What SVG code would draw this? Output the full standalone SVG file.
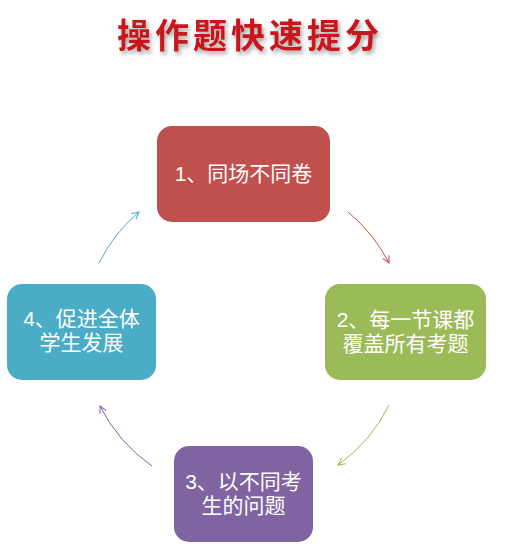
<svg xmlns="http://www.w3.org/2000/svg" width="528" height="560" viewBox="0 0 528 560">
<style>
.node text{font-family:"Liberation Sans","Noto Sans CJK SC",sans-serif;font-size:21px;fill:#FFFFFF;text-anchor:middle}
.conn path{fill:none;stroke-width:1}
.title{font-family:"Noto Sans CJK SC",sans-serif;font-weight:bold;font-size:34px;fill:#C8161D;letter-spacing:4px}
</style>
<defs>
<filter id="sh" x="-10%" y="-30%" width="120%" height="160%">
<feDropShadow dx="2" dy="3" stdDeviation="2" flood-color="#666" flood-opacity="0.6"/>
</filter>
<marker id="mr" markerWidth="10" markerHeight="10" refX="8" refY="4" orient="auto" markerUnits="userSpaceOnUse"><path d="M1,0.5 L8,4 L1,7.5" fill="none" stroke="#C0504D" stroke-width="1"/></marker>
<marker id="mg" markerWidth="10" markerHeight="10" refX="8" refY="4" orient="auto" markerUnits="userSpaceOnUse"><path d="M1,0.5 L8,4 L1,7.5" fill="none" stroke="#9BBB59" stroke-width="1"/></marker>
<marker id="mp" markerWidth="10" markerHeight="10" refX="8" refY="4" orient="auto" markerUnits="userSpaceOnUse"><path d="M1,0.5 L8,4 L1,7.5" fill="none" stroke="#8064A2" stroke-width="1"/></marker>
<marker id="mb" markerWidth="10" markerHeight="10" refX="8" refY="4" orient="auto" markerUnits="userSpaceOnUse"><path d="M1,0.5 L8,4 L1,7.5" fill="none" stroke="#4BACC6" stroke-width="1"/></marker>
</defs>
<text class="title" x="117" y="48" filter="url(#sh)">操作题快速提分</text>
<g class="conn">
<path d="M348,212 A161,161 0 0 1 389,263" stroke="#C0504D" marker-end="url(#mr)"/>
<path d="M389,405 A162,162 0 0 1 338,465" stroke="#9BBB59" marker-end="url(#mg)"/>
<path d="M152,466 A161,161 0 0 1 100,406" stroke="#8064A2" marker-end="url(#mp)"/>
<path d="M99,263 A160,160 0 0 1 139,212" stroke="#4BACC6" marker-end="url(#mb)"/>
</g>
<g id="node1" class="node">
<rect x="157" y="126" width="173" height="96" rx="15" fill="#C0504D"/>
<text x="243.5" y="181">1、同场不同卷</text>
</g>
<g id="node2" class="node">
<rect x="325" y="284" width="161" height="96" rx="15" fill="#9BBB59"/>
<text x="405.5" y="327">2、每一节课都</text>
<text x="405.5" y="351">覆盖所有考题</text>
</g>
<g id="node3" class="node">
<rect x="174" y="446" width="139" height="96" rx="15" fill="#8064A2"/>
<text x="243.5" y="489">3、以不同考</text>
<text x="243.5" y="513">生的问题</text>
</g>
<g id="node4" class="node">
<rect x="7" y="284" width="149" height="96" rx="15" fill="#4BACC6"/>
<text x="81.5" y="326">4、促进全体</text>
<text x="81.5" y="350">学生发展</text>
</g>
</svg>
